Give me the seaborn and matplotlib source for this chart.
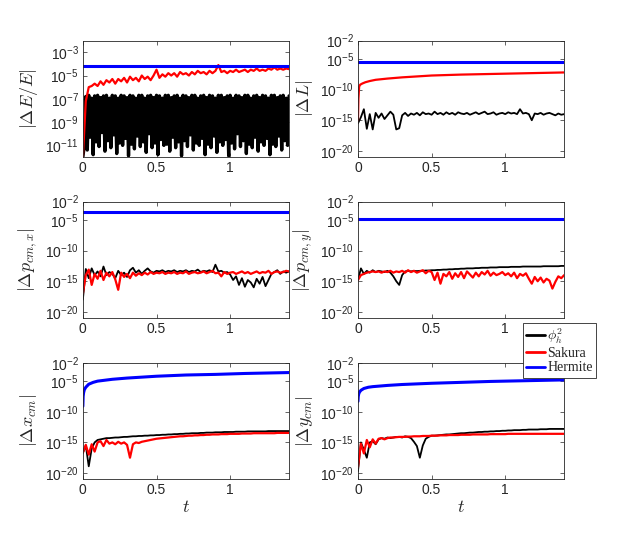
import numpy as np
import matplotlib.pyplot as plt
import matplotlib.ticker as mticker
from matplotlib.lines import Line2D
import seaborn as sns

# ---------------- data (log10 of the error) ----------------
t_grid = [0.00, 0.02, 0.04, 0.06, 0.08, 0.10, 0.12, 0.14, 0.16, 0.18,
          0.20, 0.22, 0.24, 0.26, 0.28, 0.30, 0.32, 0.34, 0.36, 0.38,
          0.40, 0.42, 0.44, 0.46, 0.48, 0.50, 0.52, 0.54, 0.56, 0.58,
          0.60, 0.62, 0.64, 0.66, 0.68, 0.70, 0.72, 0.74, 0.76, 0.78,
          0.80, 0.82, 0.84, 0.86, 0.88, 0.90, 0.92, 0.94, 0.96, 0.98,
          1.00, 1.02, 1.04, 1.06, 1.08, 1.10, 1.12, 1.14, 1.16, 1.18,
          1.20, 1.22, 1.24, 1.26, 1.28, 1.30, 1.32, 1.34, 1.36, 1.38, 1.40]
t_mid = [0.01, 0.03, 0.05, 0.07, 0.09, 0.11, 0.13, 0.15, 0.17, 0.19,
         0.21, 0.23, 0.25, 0.27, 0.29, 0.31, 0.33, 0.35, 0.37, 0.39,
         0.41, 0.43, 0.45, 0.47, 0.49, 0.51, 0.53, 0.55, 0.57, 0.59,
         0.61, 0.63, 0.65, 0.67, 0.69, 0.71, 0.73, 0.75, 0.77, 0.79,
         0.81, 0.83, 0.85, 0.87, 0.89, 0.91, 0.93, 0.95, 0.97, 0.99,
         1.01, 1.03, 1.05, 1.07, 1.09, 1.11, 1.13, 1.15, 1.17, 1.19,
         1.21, 1.23, 1.25, 1.27, 1.29, 1.31, 1.33, 1.35, 1.37, 1.39]
t_smooth = [0.0, 0.002, 0.005, 0.01, 0.02, 0.04, 0.07, 0.1, 0.2, 0.3, 0.5, 0.7, 0.9, 1.1, 1.4]
t_L = [0.0, 0.003, 0.008, 0.015, 0.03, 0.05, 0.08, 0.12, 0.2, 0.3, 0.5, 0.7, 1.0, 1.2, 1.4]
t_flat = [0.0, 1.4]

# |dE/E|
E_phi_hi = [-12.0, -6.8, -6.7, -6.95, -6.75, -6.7, -6.9, -6.75, -6.7, -6.95,
            -6.7, -6.75, -6.95, -6.7, -6.75, -6.9, -6.7, -6.75, -6.95, -6.7,
            -6.7, -6.95, -6.75, -6.7, -6.9, -6.7, -6.75, -6.95, -6.7, -6.7,
            -6.9, -6.75, -6.7, -6.95, -6.7, -6.75, -6.9, -6.7, -6.7, -6.95,
            -6.75, -6.7, -6.9, -6.7, -6.75, -6.95, -6.7, -6.7, -6.9, -6.75,
            -6.7, -6.95, -6.7, -6.75, -6.9, -6.7, -6.7, -6.95, -6.75, -6.7,
            -6.9, -6.7, -6.75, -6.95, -6.7, -6.7, -6.9, -6.75, -6.7, -6.95, -6.75]
E_phi_lo = [-11.0, -11.4, -10.3, -11.8, -10.7, -11.1, -9.9, -11.5, -10.6, -11.2,
            -10.1, -11.7, -10.8, -11.0, -10.4, -11.9, -10.9, -11.3, -10.2, -11.1,
            -10.7, -11.6, -10.0, -11.2, -10.8, -11.8, -10.5, -11.0, -10.9, -11.5,
            -10.3, -11.2, -10.7, -11.9, -10.6, -11.1, -10.1, -11.4, -10.8, -11.0,
            -10.4, -11.8, -10.9, -11.2, -10.2, -11.6, -10.7, -11.0, -10.5, -11.9,
            -10.8, -11.3, -10.0, -11.1, -10.6, -11.7, -10.9, -11.2, -10.3, -11.5,
            -10.7, -11.0, -10.4, -11.8, -10.9, -11.1, -10.2, -11.4, -10.6, -11.0]
E_sakura = [-12.0, -7.2, -6.0, -5.9, -5.7, -5.9, -5.5, -5.8, -5.4, -5.6,
            -5.3, -5.7, -5.3, -5.5, -5.2, -5.6, -5.1, -5.4, -5.2, -5.5,
            -5.0, -5.3, -5.1, -5.4, -5.0, -4.5, -5.2, -4.9, -5.1, -4.8,
            -5.0, -4.8, -5.1, -4.7, -4.9, -4.8, -5.0, -4.7, -4.9, -4.6,
            -4.8, -4.7, -4.9, -4.6, -4.8, -4.6, -4.1, -4.7, -4.6, -4.8,
            -4.6, -4.7, -4.5, -4.7, -4.6, -4.5, -4.7, -4.5, -4.6, -4.4,
            -4.6, -4.5, -4.6, -4.4, -4.5, -4.3, -4.5, -4.4, -4.5, -4.4, -4.45]
E_hermite = [-4.22, -4.22]

# |dL|
L_phi = [-15.5, -14.5, -13.2, -16.4, -14.0, -16.5, -13.8, -14.6, -13.9, -14.8,
         -14.2, -13.6, -14.1, -16.5, -16.3, -14.2, -13.8, -14.3, -13.9, -14.1,
         -13.8, -14.2, -13.7, -14.0, -13.9, -14.1, -13.6, -14.0, -13.8, -14.1,
         -13.7, -14.0, -13.8, -14.1, -13.7, -13.9, -14.0, -13.8, -14.1, -13.9,
         -13.7, -14.0, -13.8, -13.6, -14.0, -13.9, -13.7, -14.1, -13.9, -13.8,
         -14.0, -13.7, -13.9, -13.8, -14.0, -13.2, -13.9, -13.8, -14.0, -15.0,
         -13.9, -14.0, -13.8, -14.1, -13.9, -13.8, -14.0, -14.2, -13.9, -14.1, -14.0]
L_sakura = [-15.0, -11.5, -9.5, -9.2, -9.0, -8.8, -8.6, -8.4, -8.2, -8.0, -7.7, -7.55, -7.4, -7.3, -7.2]
L_hermite = [-5.45, -5.45]

# |dp_cm,x|
px_phi = [-18.0, -13.0, -14.5, -12.9, -14.0, -13.4, -14.2, -12.6, -14.0, -13.5,
          -13.8, -14.5, -13.3, -14.0, -13.6, -14.3, -13.2, -12.8, -13.6, -13.2,
          -13.8, -13.3, -12.9, -13.4, -13.6, -13.3, -13.4, -13.2, -13.5, -13.3,
          -13.4, -13.2, -13.5, -13.3, -13.4, -13.2, -13.5, -13.3, -13.4, -13.1,
          -13.5, -13.3, -13.4, -13.2, -13.5, -12.3, -13.4, -13.3, -13.6, -13.5,
          -13.9, -14.8, -14.2, -15.6, -14.5, -15.9, -14.8, -15.2, -16.0, -14.6,
          -15.4, -14.3, -15.8, -14.8, -13.8, -13.5, -13.2, -13.8, -13.4, -13.6, -13.4]
px_sakura = [-17.0, -14.0, -13.1, -15.6, -13.8, -14.6, -13.3, -14.8, -13.6, -14.2,
             -13.5, -14.7, -16.4, -13.6, -14.3, -13.8, -14.5, -13.6, -14.1, -13.7,
             -14.0, -13.6, -13.9, -13.5, -13.8, -13.6, -13.7, -13.5, -13.8, -13.6,
             -13.7, -13.5, -13.8, -13.6, -13.7, -13.4, -13.8, -13.6, -13.5, -13.7,
             -13.6, -13.4, -13.7, -13.5, -13.3, -13.7, -13.6, -14.2, -13.5, -13.8,
             -13.6, -13.5, -13.8, -13.6, -13.4, -13.7, -13.5, -13.8, -13.6, -13.4,
             -13.7, -13.5, -13.6, -13.3, -13.8, -13.5, -13.4, -13.6, -13.5, -13.3, -13.4]
px_hermite = [-3.7, -3.7]

# |dp_cm,y|
py_phi = [-14.8, -12.9, -13.8, -13.3, -13.6, -13.2, -13.5, -13.3, -13.4, -13.5,
          -13.3, -13.6, -14.2, -15.0, -15.6, -14.0, -13.4, -13.3, -13.4, -13.3,
          -13.35, -13.3, -13.3, -13.25, -13.25, -13.2, -13.2, -13.15, -13.15, -13.1,
          -13.1, -13.05, -13.05, -13.0, -13.0, -12.95, -12.95, -12.9, -12.9, -12.9,
          -12.85, -12.85, -12.8, -12.8, -12.8, -12.75, -12.75, -12.75, -12.7, -12.7,
          -12.7, -12.7, -12.65, -12.65, -12.65, -12.65, -12.6, -12.6, -12.6, -12.6,
          -12.6, -12.6, -12.6, -12.55, -12.55, -12.55, -12.55, -12.55, -12.55, -12.5, -12.5]
py_sakura = [-14.8, -14.0, -13.8, -13.6, -13.5, -13.4, -13.5, -13.4, -13.6, -13.4,
             -13.5, -13.3, -13.6, -13.4, -13.5, -13.3, -13.6, -13.2, -13.5, -13.3,
             -13.6, -13.4, -13.2, -13.7, -13.3, -13.5, -14.8, -13.6, -15.4, -13.8,
             -14.2, -13.5, -14.6, -13.7, -14.3, -13.5, -14.5, -13.4, -13.9, -14.4,
             -13.6, -14.2, -13.5, -13.9, -13.3, -14.1, -13.6, -14.0, -13.8, -13.5,
             -14.0, -13.7, -14.2, -13.6, -14.5, -13.8, -14.1, -13.7, -14.6, -15.4,
             -14.3, -15.0, -14.4, -15.2, -14.6, -14.9, -16.2, -15.1, -14.2, -14.5, -14.0]
py_hermite = [-4.9, -4.9]

# |dx_cm|
x_phi = [-16.7, -15.5, -18.9, -16.0, -15.0, -14.6, -14.5, -14.4, -14.3, -14.3,
         -14.25, -14.2, -14.2, -14.15, -14.1, -14.1, -14.05, -14.0, -14.0, -13.95,
         -13.95, -13.9, -13.9, -13.85, -13.85, -13.8, -13.8, -13.75, -13.75, -13.7,
         -13.7, -13.65, -13.65, -13.6, -13.6, -13.55, -13.55, -13.5, -13.5, -13.5,
         -13.45, -13.45, -13.4, -13.4, -13.4, -13.35, -13.35, -13.35, -13.3, -13.3,
         -13.3, -13.3, -13.25, -13.25, -13.25, -13.25, -13.2, -13.2, -13.2, -13.2,
         -13.2, -13.2, -13.2, -13.15, -13.15, -13.15, -13.15, -13.15, -13.15, -13.15, -13.15]
x_sakura = [-16.7, -15.4, -17.0, -15.3, -16.5, -15.0, -14.8, -15.6, -14.6, -15.2,
            -15.0, -15.3, -14.9, -15.2, -15.0, -15.4, -17.5, -15.3, -15.0, -15.1,
            -14.9, -14.8, -14.7, -14.6, -14.5, -14.4, -14.35, -14.3, -14.25, -14.2,
            -14.15, -14.1, -14.05, -14.0, -14.0, -13.95, -13.9, -13.9, -13.85, -13.85,
            -13.8, -13.8, -13.75, -13.75, -13.7, -13.7, -13.7, -13.65, -13.65, -13.65,
            -13.6, -13.6, -13.6, -13.6, -13.55, -13.55, -13.55, -13.55, -13.5, -13.5,
            -13.5, -13.5, -13.5, -13.5, -13.5, -13.5, -13.45, -13.45, -13.45, -13.45, -13.45]
x_hermite = [-9.1, -7.5, -6.9, -6.4, -6.0, -5.5, -5.2, -5.0, -4.7, -4.5, -4.2, -4.0, -3.9, -3.75, -3.6]

# |dy_cm|
y_phi = [-19.7, -15.0, -16.2, -17.5, -15.0, -14.8, -15.3, -14.5, -14.3, -14.4,
         -14.2, -14.3, -14.2, -14.1, -14.1, -14.2, -14.0, -14.1, -14.3, -14.9,
         -15.6, -17.5, -15.5, -14.4, -14.1, -13.9, -13.9, -13.85, -13.8, -13.75,
         -13.7, -13.7, -13.65, -13.6, -13.55, -13.5, -13.5, -13.45, -13.4, -13.4,
         -13.35, -13.3, -13.3, -13.25, -13.25, -13.2, -13.2, -13.15, -13.15, -13.1,
         -13.1, -13.05, -13.05, -13.0, -13.0, -13.0, -12.95, -12.95, -12.9, -12.9,
         -12.9, -12.9, -12.85, -12.85, -12.85, -12.8, -12.8, -12.8, -12.8, -12.8, -12.8]
y_sakura = [-19.0, -15.2, -16.8, -14.6, -15.8, -14.5, -15.2, -14.4, -14.3, -14.5,
            -14.3, -14.2, -14.2, -14.15, -14.1, -14.1, -14.1, -14.05, -14.05, -14.0,
            -14.0, -14.0, -13.95, -13.95, -13.95, -13.9, -13.9, -13.9, -13.85, -13.85,
            -13.85, -13.8, -13.8, -13.8, -13.8, -13.75, -13.75, -13.75, -13.75, -13.7,
            -13.7, -13.7, -13.7, -13.7, -13.7, -13.65, -13.65, -13.65, -13.65, -13.65,
            -13.65, -13.6, -13.6, -13.6, -13.6, -13.6, -13.6, -13.6, -13.6, -13.6,
            -13.6, -13.6, -13.6, -13.6, -13.6, -13.6, -13.6, -13.6, -13.6, -13.6, -13.6]
y_hermite = [-8.3, -7.5, -7.1, -6.8, -6.5, -6.2, -6.0, -5.9, -5.7, -5.55, -5.35, -5.2, -5.05, -4.95, -4.8]

ylabels = [r'$|\Delta E/E|$', r'$|\Delta L|$', r'$|\Delta p_{cm,x}|$',
           r'$|\Delta p_{cm,y}|$', r'$|\Delta x_{cm}|$', r'$|\Delta y_{cm}|$']
legend_labels = [r'$\phi_h^2$', 'Sakura', 'Hermite']

# black band of panel 1: interleave the peaks and troughs
t_fine = np.empty(len(t_grid) + len(t_mid))
t_fine[0::2] = t_grid
t_fine[1::2] = t_mid
E_phi = np.empty(len(t_fine))
E_phi[0::2] = E_phi_hi
E_phi[1::2] = E_phi_lo

panels = [
    ((t_fine, E_phi), (t_grid, E_sakura), (t_flat, E_hermite)),
    ((t_grid, L_phi), (t_L, L_sakura), (t_flat, L_hermite)),
    ((t_grid, px_phi), (t_grid, px_sakura), (t_flat, px_hermite)),
    ((t_grid, py_phi), (t_grid, py_sakura), (t_flat, py_hermite)),
    ((t_grid, x_phi), (t_grid, x_sakura), (t_smooth, x_hermite)),
    ((t_grid, y_phi), (t_grid, y_sakura), (t_smooth, y_hermite)),
]

# ---------------- style ----------------
sns.set_style('ticks')
plt.rcParams['font.family'] = ['Liberation Sans', 'DejaVu Sans']
plt.rcParams['mathtext.fontset'] = 'cm'
edge = '#262626'
colors = ['black', 'red', 'blue']
widths = [1.3, 1.6, 2.2]

fig = plt.figure(figsize=(6.23, 5.39), dpi=100)
lefts = [0.133, 0.5746]
bottoms = [0.7087, 0.410, 0.111]
w, h = 0.331, 0.216

fmt = mticker.FuncFormatter(lambda v, p: r'$\mathdefault{10^{%d}}$' % int(round(np.log10(v))))

for i, series in enumerate(panels):
    r, c = divmod(i, 2)
    ax = fig.add_axes([lefts[c], bottoms[r], w, h])
    for k, ((tt, vv), col, lw) in enumerate(zip(series, colors, widths)):
        if i == 0 and k == 0:
            lw = 2.4  # dense oscillation reads as a solid band
        sns.lineplot(x=np.asarray(tt), y=10.0 ** np.asarray(vv), ax=ax, color=col,
                     lw=lw, estimator=None, sort=False)
    ax.set_yscale('log')
    ax.set_xlim(0, 1.4)
    if i == 0:
        ax.set_ylim(1e-12, 1e-2)
        ax.set_yticks([1e-3, 1e-5, 1e-7, 1e-9, 1e-11])
    else:
        ax.set_ylim(1e-21, 1e-2)
        ax.set_yticks([1e-2, 1e-5, 1e-10, 1e-15, 1e-20])
    ax.yaxis.set_major_formatter(fmt)
    ax.yaxis.set_minor_locator(mticker.NullLocator())
    ax.set_xticks([0, 0.5, 1])
    ax.set_xticklabels(['0', '0.5', '1'])
    ax.tick_params(direction='in', top=True, right=True, length=3, width=0.5,
                   colors=edge, labelsize=10, pad=3)
    for s in ax.spines.values():
        s.set_color(edge)
        s.set_linewidth(0.6)
    ax.set_ylabel(ylabels[i], fontsize=13, color=edge)
    if r == 2:
        ax.set_xlabel(r'$t$', fontsize=13, color=edge, labelpad=1)
    else:
        ax.set_xlabel('')

handles = [Line2D([], [], color=col, lw=2) for col in colors]
leg = fig.legend(handles, legend_labels, loc='upper left', bbox_to_anchor=(0.8395, 0.4007),
                 borderaxespad=0, fancybox=False, framealpha=1, edgecolor=edge,
                 handlelength=1.3, handletextpad=0.2, borderpad=0.25, labelspacing=0.1,
                 prop={'family': 'Liberation Serif', 'size': 10})
leg.get_frame().set_linewidth(0.6)
leg.set_zorder(10)

fig.savefig('out.png', dpi=100)
